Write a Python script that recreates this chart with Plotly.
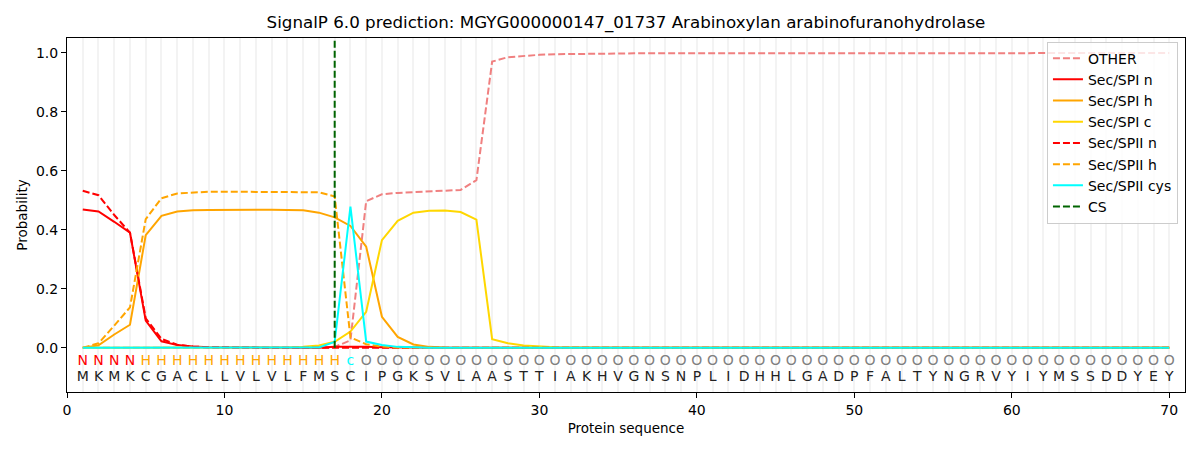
import plotly.graph_objects as go

# residue positions and sequence
sequence = "MKMKCGACLLVLVLFMSCIPGKSVLAASTTIAKHVGNSNPLIDHHLGADPFALTYNGRVYIYMSSDDYEY"
labels = "NNNN" + "H" * 13 + "c" + "O" * 52
positions = list(range(1, len(sequence) + 1))
cs_pos = 17

# per-residue probabilities
other = ([0.0] * 16 + [0.003, 0.025, 0.497, 0.52, 0.525, 0.527, 0.529, 0.531,
         0.535, 0.568, 0.97, 0.985, 0.99, 0.993, 0.995, 0.996, 0.997]
         + [0.998] * 26 + [0.997] * 10 + [0.999])
spi_n = ([0.469, 0.462, 0.427, 0.39, 0.092, 0.022, 0.009, 0.004, 0.002, 0.001]
         + [0.0] * 6 + [0.003, 0.004, 0.003, 0.002, 0.001] + [0.0] * 49)
spi_h = ([0.0, 0.008, 0.045, 0.078, 0.382, 0.447, 0.462, 0.466, 0.467, 0.468,
          0.468, 0.468, 0.468, 0.467, 0.466, 0.458, 0.442, 0.413, 0.343, 0.105,
          0.037, 0.011, 0.003, 0.001] + [0.0] * 46)
spi_c = ([0.0] * 13 + [0.001, 0.003, 0.008, 0.02, 0.055, 0.122, 0.365, 0.43,
         0.458, 0.464, 0.465, 0.46, 0.434, 0.029, 0.015, 0.008, 0.004, 0.002, 0.001]
         + [0.0] * 38)
spii_n = ([0.532, 0.517, 0.45, 0.39, 0.1, 0.03, 0.01, 0.004, 0.002, 0.001]
          + [0.0] * 60)
spii_h = ([0.0, 0.015, 0.075, 0.137, 0.436, 0.507, 0.523, 0.527, 0.529, 0.529,
           0.529, 0.529, 0.529, 0.528, 0.528, 0.527, 0.513, 0.035, 0.012, 0.004,
           0.001] + [0.0] * 49)
spii_cys = ([0.0] * 15 + [0.001, 0.02, 0.478, 0.021, 0.009, 0.003, 0.001]
            + [0.0] * 48)

label_colors = {"N": "red", "H": "orange", "c": "cyan", "O": "grey"}

fig = go.Figure()

dash = "7px,3px"
series = [
    ("OTHER", other, "lightcoral", dash),
    ("Sec/SPI n", spi_n, "red", "solid"),
    ("Sec/SPI h", spi_h, "orange", "solid"),
    ("Sec/SPI c", spi_c, "gold", "solid"),
    ("Sec/SPII n", spii_n, "red", dash),
    ("Sec/SPII h", spii_h, "orange", dash),
    ("Sec/SPII cys", spii_cys, "cyan", "solid"),
]
for name, vals, color, d in series:
    fig.add_trace(go.Scatter(x=positions, y=vals, mode="lines", name=name,
                             line=dict(color=color, width=2, dash=d)))

fig.add_trace(go.Scatter(x=[cs_pos, cs_pos], y=[0, 1.05], mode="lines", name="CS",
                         line=dict(color="darkgreen", width=2, dash=dash)))

# region labels and residues under the curves
fig.add_trace(go.Scatter(x=positions, y=[-0.047] * len(labels), mode="text",
                         text=list(labels), showlegend=False, hoverinfo="skip",
                         textfont=dict(size=14, color=[label_colors[c] for c in labels])))
fig.add_trace(go.Scatter(x=positions, y=[-0.1] * len(sequence), mode="text",
                         text=list(sequence), showlegend=False, hoverinfo="skip",
                         textfont=dict(size=14, color="#222222")))

# the page puts the figure 8px in from the top-left corner
fig.update_layout(
    width=1200, height=450,
    margin=dict(l=59, r=23, t=30, b=66),
    plot_bgcolor="white", paper_bgcolor="white",
    font=dict(family="DejaVu Sans", size=14, color="black"),
    title=dict(text="SignalP 6.0 prediction: MGYG000000147_01737 Arabinoxylan arabinofuranohydrolase",
               x=0.5, xref="paper", xanchor="center", y=0.969, yanchor="middle",
               font=dict(size=16.7)),
    legend=dict(x=0.9937, y=0.99, xanchor="right", yanchor="top",
                bgcolor="rgba(255,255,255,0.8)", bordercolor="#cccccc",
                borderwidth=1, font=dict(size=14), tracegroupgap=0),
    showlegend=True,
)
fig.update_xaxes(range=[0, 71], tickmode="linear", tick0=0, dtick=10,
                 ticks="outside", ticklen=5, tickcolor="black", automargin=False,
                 showline=True, linecolor="black", linewidth=1, mirror=True,
                 showgrid=True, gridcolor="#f3f3f3", gridwidth=1.5, zeroline=False,
                 minor=dict(dtick=1, showgrid=True, gridcolor="#f3f3f3", gridwidth=1.5),
                 title=dict(text="Protein sequence", standoff=6, font=dict(size=13.5)))
fig.update_yaxes(range=[-0.15, 1.05], tickmode="array",
                 tickvals=[0, 0.2, 0.4, 0.6, 0.8, 1.0],
                 ticktext=["0.0", "0.2", "0.4", "0.6", "0.8", "1.0"],
                 ticks="outside", ticklen=5, tickcolor="black", automargin=False,
                 showline=True, linecolor="black", linewidth=1, mirror=True,
                 showgrid=False, zeroline=False,
                 title=dict(text="Probability", standoff=5, font=dict(size=13.5)))

fig.write_html("out.html")
